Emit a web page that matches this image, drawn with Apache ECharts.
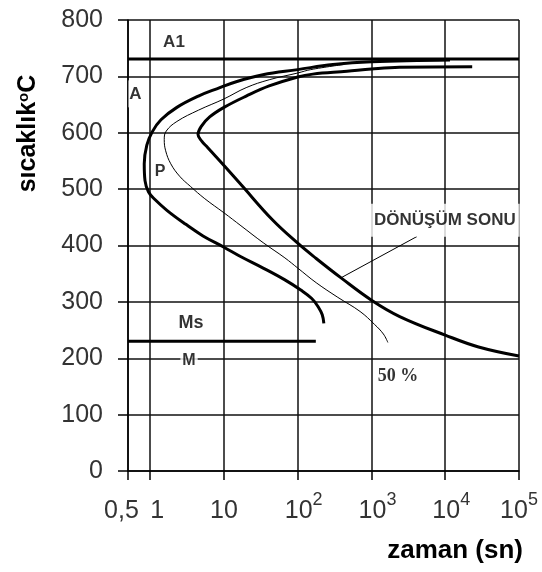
<!DOCTYPE html>
<html>
<head>
<meta charset="utf-8">
<script src="https://cdn.jsdelivr.net/npm/echarts@6/dist/echarts.min.js"></script>
<style>
  html, body { margin: 0; padding: 0; background: #fff; }
  #chart { width: 542px; height: 572px; }
</style>
</head>
<body>
<div id="chart"></div>
<script>
// ---- data (time in seconds, temperature in °C) ----
const xTicks = [0.5, 1, 10, 100, 1000, 10000, 100000];
const xTickBase = ['0,5', '1', '10', '10', '10', '10', '10'];
const xTickExp = ['', '', '', '2', '3', '4', '5'];

const a1Time = [0.5, 100000];
const a1Temp = [731, 731];

const msTime = [0.5, 176];
const msTemp = [230, 230];

// transformation start curve (thick, left)
const startTime = [11600, 1000, 300, 100, 33.7, 15, 8, 4.5, 2.3, 1.4, 1.07, 0.9, 0.83, 0.85, 0.95, 1.15, 1.7, 3.0, 5.2, 10, 17, 34, 67, 110, 155, 190, 215, 226];
const startTemp = [729, 726, 721, 712, 703, 691, 678, 665, 645, 623, 602, 578, 545, 515, 495, 482, 462, 438, 417, 397, 380, 360, 339, 321, 306, 291, 277, 262];

// 50 % transformation curve (thin)
const halfTime = [418, 150, 100, 41, 20, 10, 4.5, 2.3, 1.65, 1.55, 1.62, 1.9, 2.5, 3.5, 5.5, 10, 17, 34, 67, 100, 178, 350, 700, 1100, 1450, 1667];
const halfTemp = [721, 712, 706, 694, 680, 660, 640, 620, 603, 588, 568, 545, 523, 505, 483, 458, 435, 405, 378, 360, 334, 308, 283, 260, 243, 228];

// transformation end curve (thick, right)
const endTime = [23200, 2400, 1000, 465, 160, 100, 41, 20, 10, 6.4, 4.9, 4.45, 5.0, 6.0, 10.3, 17, 45, 100, 178, 383, 1000, 2414, 10000, 28300, 100000];
const endTemp = [717, 716, 713, 709, 704, 699, 683, 665, 645, 628, 611, 597, 585, 574, 540, 508, 446, 404, 377, 343, 303, 274, 241, 220, 204];

// leader line for "DÖNÜŞÜM SONU"
const leaderTime = [4144, 390];
const leaderTemp = [416, 343];

// annotation texts and their positions (data units)
const labelNames = ['A1', 'A', 'P', 'Ms', 'M', '50 %', 'DÖNÜŞÜM SONU'];
const labelTime = [2.1, 0.632, 1.36, 3.57, 3.36, 2280, 9880];
const labelTemp = [761, 669, 531, 262, 195, 168, 445];

// ---- chart ----
const zip = (xs, ys) => xs.map((x, i) => [x, ys[i]]);
const FONT = 'Liberation Sans, Arial, sans-serif';

function tickLabel(v) {
  let idx = -1;
  xTicks.forEach((t, i) => { if (Math.abs(Math.log10(v) - Math.log10(t)) < 0.01) idx = i; });
  if (idx < 0) return '';
  if (idx === 0) return '{l|' + xTickBase[0] + '}';
  if (idx === 1) return '{r|' + xTickBase[1] + '}';
  if (xTickExp[idx]) {
    const baseStyle = idx === xTicks.length - 1 ? 'b' : 'p';
    return '{' + baseStyle + '|' + xTickBase[idx] + '}{s|' + xTickExp[idx] + '}';
  }
  return '{b|' + xTickBase[idx] + '}';
}

const labelStyles = {
  'A1': { fontSize: 17 },
  'A': { fontSize: 17, backgroundColor: '#fff', padding: [5, 1, 5, 1] },
  'P': { fontSize: 16 },
  'Ms': { fontSize: 18, backgroundColor: '#fff', padding: [6, 2, 6, 2] },
  'M': { fontSize: 16, backgroundColor: '#fff', padding: [1, 2, 1, 2] },
  '50 %': { fontSize: 18, fontFamily: 'Liberation Serif, Times New Roman, serif' },
  'DÖNÜŞÜM SONU': { fontSize: 17, backgroundColor: '#fff', padding: [8, 4, 8, 4] }
};

const LBL = { fontFamily: FONT, fontSize: 25, color: '#333' };

const option = {
  animation: false,
  backgroundColor: '#fff',
  title: {
    text: 'zaman (sn)',
    right: 19,
    top: 538,
    padding: 0,
    textStyle: { fontFamily: FONT, fontSize: 26, fontWeight: 'bold', color: '#000' }
  },
  grid: { left: 128, right: 23, top: 20, bottom: 101, containLabel: false, outerBoundsMode: 'none' },
  xAxis: {
    type: 'log',
    logBase: 10,
    min: 0.5,
    max: 100000,
    axisLine: { show: true, lineStyle: { color: '#000', width: 1.5 } },
    axisTick: { show: true, length: 9, lineStyle: { color: '#000', width: 1.5 } },
    minorTick: { show: false },
    splitLine: { show: true, lineStyle: { color: '#111', width: 1.5 } },
    minorSplitLine: { show: false },
    axisLabel: {
      show: true,
      hideOverlap: false,
      showMinLabel: true,
      showMaxLabel: true,
      margin: 20,
      color: '#333',
      fontFamily: FONT,
      fontSize: 25,
      formatter: tickLabel,
      rich: {
        l: Object.assign({ padding: [8, 13, 0, 0] }, LBL),
        r: Object.assign({ padding: [8, 0, 0, 14] }, LBL),
        b: Object.assign({ padding: [8, 0, 0, 0] }, LBL),
        p: Object.assign({ padding: [8, 0, 0, 12] }, LBL),
        s: { fontFamily: FONT, fontSize: 18, color: '#333', verticalAlign: 'top' }
      }
    }
  },
  yAxis: {
    type: 'value',
    min: 0,
    max: 800,
    interval: 100,
    name: '{a|sıcaklık}{s|o}{a|C}',
    nameLocation: 'middle',
    nameRotate: 90,
    nameGap: 87,
    nameMoveOverlap: false,
    nameTextStyle: {
      fontFamily: FONT, fontSize: 25, fontWeight: 'bold', color: '#000',
      padding: [0, 0, 0, 224],
      rich: {
        a: { fontFamily: FONT, fontSize: 25, fontWeight: 'bold', color: '#000' },
        s: { fontFamily: FONT, fontSize: 15, fontWeight: 'bold', color: '#000', verticalAlign: 'top' }
      }
    },
    axisLine: { show: true, lineStyle: { color: '#000', width: 1.5 } },
    axisTick: { show: true, length: 10, lineStyle: { color: '#000', width: 1.5 } },
    splitLine: { show: true, lineStyle: { color: '#111', width: 1.5 } },
    axisLabel: {
      show: true, margin: 25, color: '#333', fontFamily: FONT, fontSize: 25,
      hideOverlap: false, showMinLabel: true, showMaxLabel: true
    }
  },
  series: [
    {
      name: 'A1', type: 'line', data: zip(a1Time, a1Temp), symbol: 'none',
      lineStyle: { color: '#000', width: 3 }, z: 3
    },
    {
      name: 'Ms', type: 'line', data: zip(msTime, msTemp), symbol: 'none',
      lineStyle: { color: '#000', width: 3 }, z: 3
    },
    {
      name: 'start', type: 'line', data: zip(startTime, startTemp), symbol: 'none', smooth: 0.4,
      lineStyle: { color: '#000', width: 3 }, z: 3
    },
    {
      name: '50%', type: 'line', data: zip(halfTime, halfTemp), symbol: 'none', smooth: 0.4,
      lineStyle: { color: '#000', width: 1 }, z: 3
    },
    {
      name: 'end', type: 'line', data: zip(endTime, endTemp), symbol: 'none', smooth: 0.4,
      lineStyle: { color: '#000', width: 3 }, z: 3
    },
    {
      name: 'leader', type: 'line', data: zip(leaderTime, leaderTemp), symbol: 'none',
      lineStyle: { color: '#000', width: 1 }, z: 3
    },
    {
      name: 'labels', type: 'scatter', symbolSize: 0, z: 10,
      data: labelNames.map((n, i) => ({
        name: n,
        value: [labelTime[i], labelTemp[i]],
        label: Object.assign({
          show: true, position: 'inside', formatter: '{b}',
          color: '#000', fontWeight: 'bold', fontFamily: FONT
        }, labelStyles[n])
      })),
      emphasis: { disabled: true }
    }
  ]
};

const chart = echarts.init(document.getElementById('chart'), null, { renderer: 'canvas' });
chart.setOption(option);
</script>
</body>
</html>
